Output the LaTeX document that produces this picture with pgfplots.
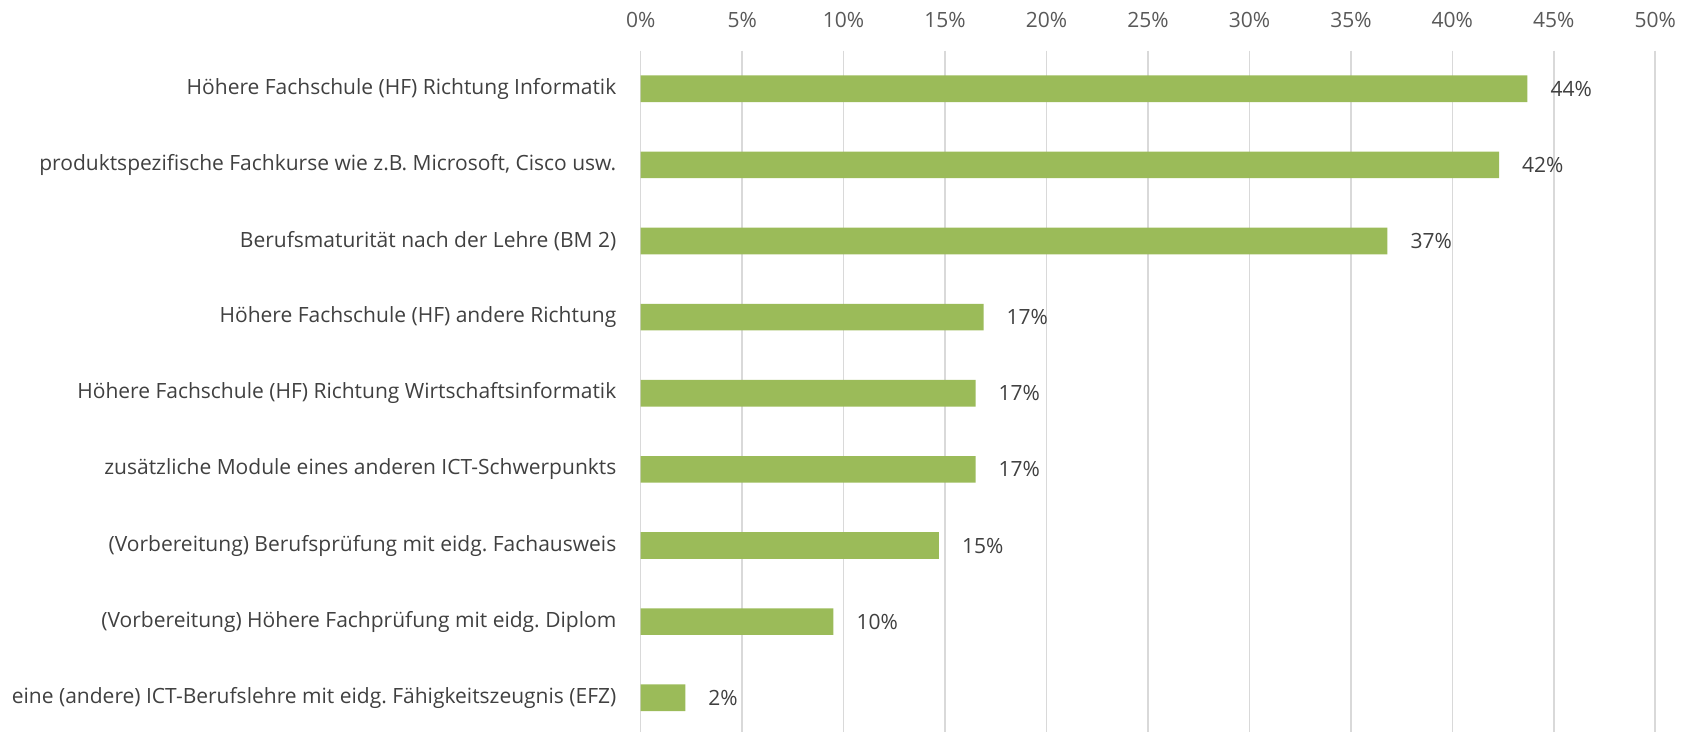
\documentclass[border=0pt]{standalone}
\usepackage{fontspec}
\setmainfont{Open Sans}
\usepackage{pgfplots}
\pgfplotsset{compat=1.18}
\definecolor{BarGreen}{HTML}{9BBB59}
\definecolor{LabelGray}{HTML}{404040}
\definecolor{TickGray}{HTML}{595959}
\definecolor{GridGray}{HTML}{D9D9D9}
\frenchspacing

\begin{document}
\begin{tikzpicture}
\useasboundingbox (-320.35pt,0pt) rectangle (522.65pt,366pt);
\begin{axis}[
    at={(0pt,0pt)},
    anchor=south west,
    scale only axis,
    width=507.3pt,
    height=340.65pt,
    xbar,
    bar width=13.35pt,
    bar shift=0pt,
    xmin=0, xmax=50,
    ymin=-0.5, ymax=8.45,
    y dir=reverse,
    xtick={0,5,...,50},
    xticklabel={\pgfmathprintnumber[assume math mode=true]{\tick}\%},
    xticklabel pos=upper,
    xticklabel style={anchor=center, yshift=15.35pt, text=TickGray, font=\fontsize{10.5}{12}\selectfont},
    ytick={0,...,8},
    yticklabels={
        Höhere Fachschule (HF) Richtung Informatik,
        {produktspezifische Fachkurse wie z.B. Microsoft, Cisco usw.},
        Berufsmaturität nach der Lehre (BM 2),
        Höhere Fachschule (HF) andere Richtung,
        Höhere Fachschule (HF) Richtung Wirtschaftsinformatik,
        zusätzliche Module eines anderen ICT-Schwerpunkts,
        (Vorbereitung) Berufsprüfung mit eidg. Fachausweis,
        (Vorbereitung) Höhere Fachprüfung mit eidg. Diplom,
        eine (andere) ICT-Berufslehre mit eidg. Fähigkeitszeugnis (EFZ)
    },
    yticklabel style={anchor=east, inner sep=0pt, xshift=-12pt, text=LabelGray, font=\fontsize{10.5}{12}\selectfont},
    major tick length=0pt,
    tick style={draw=none},
    axis line style={draw=none},
    xmajorgrids=true,
    grid style={draw=GridGray, line width=0.8pt},
    point meta=explicit symbolic,
    nodes near coords={\pgfplotspointmeta\%},
    nodes near coords style={anchor=west, xshift=8pt, text=LabelGray, font=\fontsize{10.5}{12}\selectfont},
    clip=false
]
\addplot[fill=BarGreen, draw=none] coordinates {
    (43.7,0) [44]
    (42.3,1) [42]
    (36.8,2) [37]
    (16.9,3) [17]
    (16.5,4) [17]
    (16.5,5) [17]
    (14.7,6) [15]
    (9.5,7) [10]
    (2.2,8) [2]
};
\end{axis}
\end{tikzpicture}
\end{document}
